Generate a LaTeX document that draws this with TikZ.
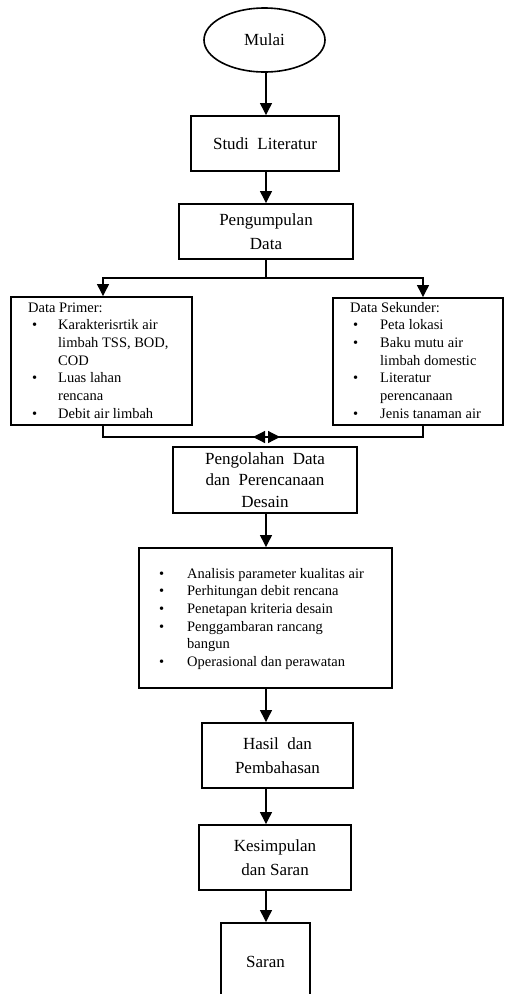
\documentclass[tikz,border=0pt]{standalone}
\usepackage{fontspec}
\setmainfont{Liberation Serif}
\usetikzlibrary{arrows.meta,shapes.geometric}
\newcommand\bigtxt{\fontsize{17}{23.5}\selectfont}
\newcommand\smalltxt{\fontsize{14.5}{17.7}\selectfont}
\begin{document}
\begin{tikzpicture}[x=1pt,y=-1pt,
  box/.style={draw,line width=1.9pt,inner sep=0pt,align=center,font=\bigtxt},
  conn/.style={line width=1.2pt,-{Triangle[width=12pt,length=12pt]}},
  plain/.style={line width=1.2pt},
  listtxt/.style={anchor=base west,inner sep=0pt,font=\smalltxt}
]
\useasboundingbox (0,0) rectangle (504,994);
\clip (0,0) rectangle (504,994);
\fill[white] (0,0) rectangle (504,994);

\coordinate (axis) at (266,0);
\coordinate (px) at (103,0);
\coordinate (sx) at (423,0);
\coordinate (split) at (266,278);
\coordinate (join1) at (280,437);
\coordinate (join2) at (253,437);

\node[ellipse,draw,line width=1.6pt,minimum width=121pt,minimum height=64pt,inner sep=0pt,font=\bigtxt] (mulai) at (264.5,40) {Mulai};
\node[box,minimum width=148pt,minimum height=55pt] (studi) at (265,143.5) {Studi\ \ Literatur};
\node[box,minimum width=174pt,minimum height=55pt] (kumpul) at (266,231.5) {Pengumpulan\\Data};
\node[box,minimum width=181pt,minimum height=128pt] (primer) at (101.5,361) {};
\node[box,minimum width=170pt,minimum height=127pt] (sekunder) at (418,361.5) {};
\node[box,minimum width=184pt,minimum height=66pt,font=\fontsize{17}{21.5}\selectfont] (olah) at (265,480) {Pengolahan\ \ Data\\dan\ \ Perencanaan\\Desain};
\node[box,minimum width=253pt,minimum height=140pt] (analisis) at (265.5,618) {};
\node[box,minimum width=151pt,minimum height=65pt] (hasil) at (277.5,755.5) {Hasil\ \ dan\\Pembahasan};
\node[box,minimum width=152pt,minimum height=65pt] (kesimpulan) at (275,857.5) {Kesimpulan\\dan Saran};
\node[box,minimum width=89pt,minimum height=78pt] (saran) at (265.5,962) {Saran};

\node[listtxt] (primertxt) at (28,312) {\begin{tabular}[t]{@{}p{30pt}@{}l@{}}
\multicolumn{2}{@{}l@{}}{Data Primer:}\\
\hspace{4pt}\textbullet & Karakterisrtik air\\
 & limbah TSS, BOD,\\
 & COD\\
\hspace{4pt}\textbullet & Luas lahan\\
 & rencana\\
\hspace{4pt}\textbullet & Debit air limbah
\end{tabular}};

\node[listtxt] (sekundertxt) at (350,312) {\begin{tabular}[t]{@{}p{30pt}@{}l@{}}
\multicolumn{2}{@{}l@{}}{Data Sekunder:}\\
\hspace{3pt}\textbullet & Peta lokasi\\
\hspace{3pt}\textbullet & Baku mutu air\\
 & limbah domestic\\
\hspace{3pt}\textbullet & Literatur\\
 & perencanaan\\
\hspace{3pt}\textbullet & Jenis tanaman air
\end{tabular}};

\node[listtxt] (analisistxt) at (159,578) {\begin{tabular}[t]{@{}p{28pt}@{}l@{}}
\textbullet & Analisis parameter kualitas air\\
\textbullet & Perhitungan debit rencana\\
\textbullet & Penetapan kriteria desain\\
\textbullet & Penggambaran rancang\\
 & bangun\\
\textbullet & Operasional dan perawatan
\end{tabular}};

\draw[conn] (mulai.south -| axis) -- (studi.north -| axis);
\draw[conn] (studi.south -| axis) -- (kumpul.north -| axis);
\draw[plain] (kumpul.south -| axis) -- (split);
\draw[conn] (split) -| (primer.north -| px);
\draw[conn] (split) -| (sekunder.north -| sx);
\draw[conn] (primer.south -| px) |- (join1);
\draw[conn] (sekunder.south -| sx) |- (join2);
\draw[conn] (olah.south -| axis) -- (analisis.north -| axis);
\draw[conn] (analisis.south -| axis) -- (hasil.north -| axis);
\draw[conn] (hasil.south -| axis) -- (kesimpulan.north -| axis);
\draw[conn] (kesimpulan.south -| axis) -- (saran.north -| axis);
\end{tikzpicture}
\end{document}
